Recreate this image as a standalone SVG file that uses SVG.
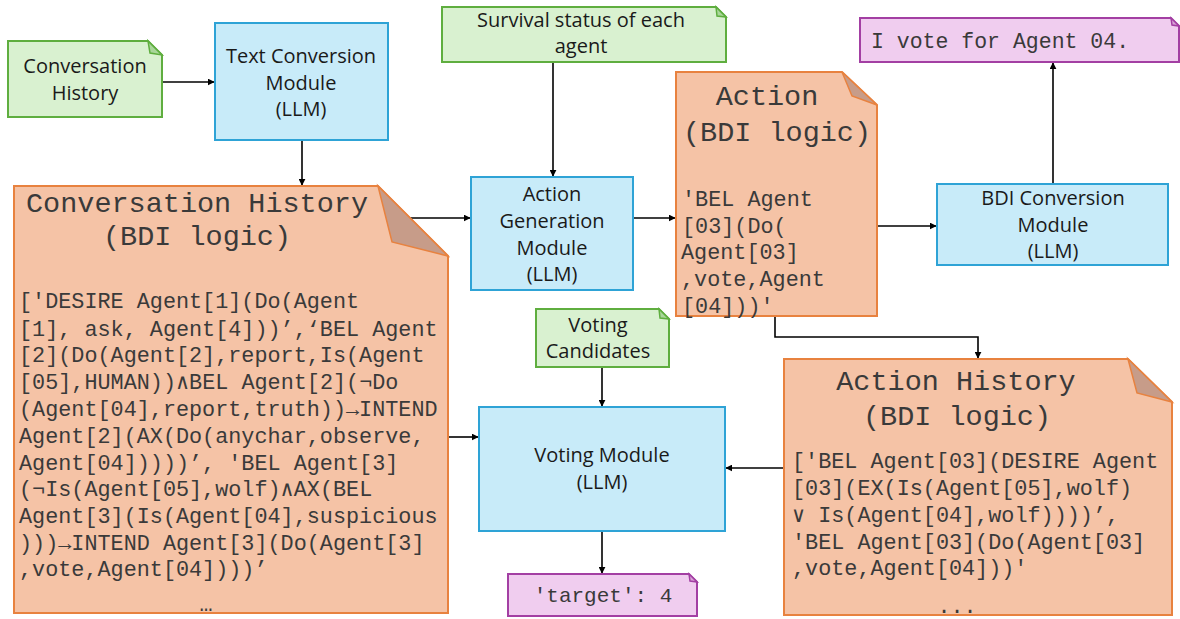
<svg xmlns="http://www.w3.org/2000/svg" width="1180" height="619" viewBox="0 0 1180 619">
<defs>
<marker id="ah" viewBox="0 0 10 10" refX="9" refY="5" markerWidth="7" markerHeight="7" markerUnits="userSpaceOnUse" orient="auto">
<path d="M0,0 L10,5 L0,10 Z" fill="#000"/>
</marker>
<style>
.green{fill:#d9f1d0;stroke:#5fae3f;stroke-width:2}
.gfold{fill:#a9d69a;stroke:#5fae3f;stroke-width:1.5}
.blue{fill:#c8ebf9;stroke:#2ea3d6;stroke-width:2}
.doc{fill:#f5c3a6;stroke:#e8823f;stroke-width:2}
.fold{fill:#c79c89;stroke:#e8823f;stroke-width:1.5}
.purple{fill:#f0cdef;stroke:#a33fa3;stroke-width:2}
.pfold{fill:#d9a3d8;stroke:#a33fa3;stroke-width:1.5}
.sans{font-family:"Open Sans","Liberation Sans",sans-serif;font-size:20px;fill:#1a1a1a;text-anchor:middle}
.mono{font-family:"Liberation Mono","DejaVu Sans Mono",monospace;fill:#3a3a3a}
.title{font-size:28.5px;text-anchor:middle}
.body{font-size:21.8px}
.conn{fill:none;stroke:#000;stroke-width:1.6}
</style>
</defs>

<g id="connectors">
<line class="conn" x1="162" y1="82" x2="214" y2="82" marker-end="url(#ah)"/>
<line class="conn" x1="302" y1="140" x2="302" y2="185" marker-end="url(#ah)"/>
<line class="conn" x1="553" y1="62" x2="553" y2="176" marker-end="url(#ah)"/>
<line class="conn" x1="410" y1="218" x2="470" y2="218" marker-end="url(#ah)"/>
<line class="conn" x1="633" y1="218" x2="675" y2="218" marker-end="url(#ah)"/>
<line class="conn" x1="877" y1="226" x2="936" y2="226" marker-end="url(#ah)"/>
<line class="conn" x1="1053" y1="184" x2="1053" y2="63" marker-end="url(#ah)"/>
<polyline class="conn" points="775,316 775,337 978,337 978,358" marker-end="url(#ah)"/>
<line class="conn" x1="448" y1="437" x2="478" y2="437" marker-end="url(#ah)"/>
<line class="conn" x1="784" y1="468" x2="726" y2="468" marker-end="url(#ah)"/>
<line class="conn" x1="602" y1="367" x2="602" y2="406" marker-end="url(#ah)"/>
<line class="conn" x1="602" y1="531" x2="602" y2="573" marker-end="url(#ah)"/>
</g>

<g id="conv-history">
<path class="green" d="M8,41 H148 L162,55 V117 H8 Z"/>
<path class="gfold" d="M148,41 L150,53 L162,55 Z"/>
<text class="sans" x="85" y="73">Conversation</text>
<text class="sans" x="85" y="100">History</text>
</g>

<g id="text-conversion">
<rect class="blue" x="215" y="23" width="173" height="117"/>
<text class="sans" x="301" y="63">Text Conversion</text>
<text class="sans" x="301" y="90">Module</text>
<text class="sans" x="301" y="116">(LLM)</text>
</g>

<g id="survival">
<path class="green" d="M442,7 H716 L726,17 V62 H442 Z"/>
<path class="gfold" d="M716,7 L717,16 L726,17 Z"/>
<text class="sans" x="581" y="27">Survival status of each</text>
<text class="sans" x="581" y="53">agent</text>
</g>

<g id="conv-history-bdi">
<path class="doc" d="M14,186 H378 L448,256 V613 H14 Z"/>
<path class="fold" d="M378,186 L392,242 L448,256 Z"/>
<text class="mono title" x="197" y="212">Conversation History</text>
<text class="mono title" x="197" y="245">(BDI logic)</text>
<text class="mono body" x="19" y="308">['DESIRE Agent[1](Do(Agent</text>
<text class="mono body" x="19" y="336">[1], ask, Agent[4]))’,‘BEL Agent</text>
<text class="mono body" x="19" y="362">[2](Do(Agent[2],report,Is(Agent</text>
<text class="mono body" x="19" y="389">[05],HUMAN))∧BEL Agent[2](¬Do</text>
<text class="mono body" x="19" y="416">(Agent[04],report,truth))→INTEND</text>
<text class="mono body" x="19" y="443">Agent[2](AX(Do(anychar,observe,</text>
<text class="mono body" x="19" y="470">Agent[04]))))’, 'BEL Agent[3]</text>
<text class="mono body" x="19" y="496">(¬Is(Agent[05],wolf)∧AX(BEL</text>
<text class="mono body" x="19" y="523">Agent[3](Is(Agent[04],suspicious</text>
<text class="mono body" x="19" y="550">)))→INTEND Agent[3](Do(Agent[3]</text>
<text class="mono body" x="19" y="576">,vote,Agent[04])))’</text>
<text class="mono body" x="206" y="611" text-anchor="middle">…</text>
</g>

<g id="action-generation">
<rect class="blue" x="471" y="177" width="162" height="113"/>
<text class="sans" x="552" y="201">Action</text>
<text class="sans" x="552" y="228">Generation</text>
<text class="sans" x="552" y="255">Module</text>
<text class="sans" x="552" y="281">(LLM)</text>
</g>

<g id="action-bdi">
<path class="doc" d="M676,72 H842 L877,105 V316 H676 Z"/>
<path class="fold" d="M842,72 L852,96 L877,105 Z"/>
<text class="mono title" x="767" y="105">Action</text>
<text class="mono title" x="777" y="141">(BDI logic)</text>
<text class="mono body" x="682" y="206">'BEL Agent</text>
<text class="mono body" x="682" y="233">[03](Do(</text>
<text class="mono body" x="681" y="259">Agent[03]</text>
<text class="mono body" x="681" y="286">,vote,Agent</text>
<text class="mono body" x="682" y="313">[04]))'</text>
</g>

<g id="bdi-conversion">
<rect class="blue" x="937" y="184" width="231" height="81"/>
<text class="sans" x="1053" y="205">BDI Conversion</text>
<text class="sans" x="1053" y="232">Module</text>
<text class="sans" x="1053" y="258">(LLM)</text>
</g>

<g id="vote-output">
<path class="purple" d="M860,18 H1171 L1179,26 V62 H860 Z"/>
<path class="pfold" d="M1171,18 L1172,25 L1179,26 Z"/>
<text class="mono" x="871" y="48" font-size="21.5">I vote for Agent 04.</text>
</g>

<g id="voting-candidates">
<path class="green" d="M536,309 H659 L669,319 V367 H536 Z"/>
<path class="gfold" d="M659,309 L660,318 L669,319 Z"/>
<text class="sans" x="598" y="332">Voting</text>
<text class="sans" x="598" y="358">Candidates</text>
</g>

<g id="voting-module">
<rect class="blue" x="479" y="407" width="246" height="124"/>
<text class="sans" x="602" y="462">Voting Module</text>
<text class="sans" x="602" y="489">(LLM)</text>
</g>

<g id="target-output">
<path class="purple" d="M508,574 H689 L697,582 V616 H508 Z"/>
<path class="pfold" d="M689,574 L690,581 L697,582 Z"/>
<text class="mono" x="603" y="602" font-size="21" text-anchor="middle">'target': 4</text>
</g>

<g id="action-history">
<path class="doc" d="M784,359 H1128 L1172,402 V615 H784 Z"/>
<path class="fold" d="M1128,359 L1137,393 L1172,402 Z"/>
<text class="mono title" x="956" y="390">Action History</text>
<text class="mono title" x="957" y="425">(BDI logic)</text>
<text class="mono body" x="792" y="468">['BEL Agent[03](DESIRE Agent</text>
<text class="mono body" x="792" y="495">[03](EX(Is(Agent[05],wolf)</text>
<text class="mono body" x="792" y="522">∨ Is(Agent[04],wolf))))’,</text>
<text class="mono body" x="792" y="549">'BEL Agent[03](Do(Agent[03]</text>
<text class="mono body" x="792" y="575">,vote,Agent[04]))'</text>
<text class="mono body" x="957" y="613" text-anchor="middle">...</text>
</g>
</svg>
